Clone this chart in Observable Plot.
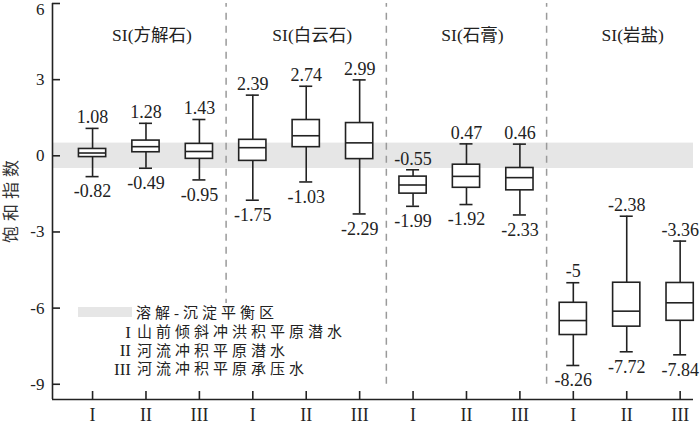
<!DOCTYPE html>
<html><head><meta charset="utf-8">
<script src="https://cdn.jsdelivr.net/npm/d3@7"></script>
<script src="https://cdn.jsdelivr.net/npm/@observablehq/plot@0.6"></script>
<style>
body{margin:0;background:#fff;}
#chart{width:700px;height:425px;}
</style></head><body><div id="chart"></div>
<script>
// ---- data ----
const minerals = ["SI(方解石)", "SI(白云石)", "SI(石膏)", "SI(岩盐)"];
const aquifers = ["I", "II", "III"];
const maxVals = [1.08, 1.28, 1.43, 2.39, 2.74, 2.99, -0.55, 0.47, 0.46, -5, -2.38, -3.36];
const q3Vals  = [0.27, 0.60, 0.47, 0.63, 1.41, 1.29, -0.82, -0.35, -0.48, -5.79, -5.00, -5.01];
const medVals = [0.11, 0.36, 0.17, 0.32, 0.79, 0.51, -1.15, -0.81, -0.86, -6.49, -6.12, -5.79];
const q1Vals  = [-0.05, 0.14, -0.12, -0.20, 0.34, -0.13, -1.49, -1.26, -1.36, -7.06, -6.73, -6.50];
const minVals = [-0.82, -0.49, -0.95, -1.75, -1.03, -2.29, -1.99, -1.92, -2.33, -8.26, -7.72, -7.84];
const yTicks = [-9, -6, -3, 0, 3, 6];
const equilibriumBand = [-0.5, 0.5];
const legendBandLabel = "溶解-沉淀平衡区";
const legendAquiferLabels = ["山前倾斜冲洪积平原潜水", "河流冲积平原潜水", "河流冲积平原承压水"];
const yTitle = "饱和指数";

// ---- derived table ----
const boxes = maxVals.map((mx, i) => ({
  pos: i + 1,
  group: minerals[Math.floor(i / 3)],
  aq: aquifers[i % 3],
  max: mx, q3: q3Vals[i], med: medVals[i], q1: q1Vals[i], min: minVals[i]
}));
const positions = boxes.map(d => d.pos);
const separators = minerals.slice(1).map((_, i) => (i + 1) * aquifers.length + 0.5);
const groupCenters = minerals.map((m, i) => ({m, c: i * aquifers.length + 2}));
const topTick = yTicks[yTicks.length - 1];

const xDomain = [0.25, 12.25];
const yDomain = [-9.6, 6];
const boxHalf = 0.255, capHalf = 0.122;
const ink = "#222";
const serif = "'Liberation Serif', 'Noto Sans CJK SC', serif";

const chart = Plot.plot({
  width: 700, height: 425,
  marginLeft: 52, marginRight: 7, marginTop: 3, marginBottom: 26,
  x: {type: "linear", domain: xDomain},
  y: {domain: yDomain},
  style: {fontFamily: serif, fontSize: "17px", color: ink, background: "white"},
  marks: [
    Plot.rect([equilibriumBand], {x1: () => xDomain[0], x2: () => xDomain[1], y1: d => d[0], y2: d => d[1], fill: "#e6e6e6"}),
    Plot.ruleX(separators, {y1: () => yTicks[0], y2: () => topTick, stroke: "#9a9a9a", strokeWidth: 1.5, strokeDasharray: "7,6"}),
    Plot.ruleX(boxes, {x: "pos", y1: "min", y2: "max", stroke: ink, strokeWidth: 1.6}),
    Plot.ruleY(boxes, {y: "max", x1: d => d.pos - capHalf, x2: d => d.pos + capHalf, stroke: ink, strokeWidth: 1.6}),
    Plot.ruleY(boxes, {y: "min", x1: d => d.pos - capHalf, x2: d => d.pos + capHalf, stroke: ink, strokeWidth: 1.6}),
    Plot.rect(boxes, {x1: d => d.pos - boxHalf, x2: d => d.pos + boxHalf, y1: "q1", y2: "q3", fill: "white", stroke: ink, strokeWidth: 1.6}),
    Plot.ruleY(boxes, {y: "med", x1: d => d.pos - boxHalf, x2: d => d.pos + boxHalf, stroke: ink, strokeWidth: 1.6}),
    Plot.text(boxes, {x: "pos", y: "max", text: d => String(d.max), dy: -11, fontSize: 18, fontFamily: serif, fill: ink}),
    Plot.text(boxes, {x: "pos", y: "min", text: d => String(d.min), dy: 15, fontSize: 18, fontFamily: serif, fill: ink}),
    Plot.text(groupCenters, {x: "c", text: "m", frameAnchor: "top", dy: 25, dx: 6, fontSize: 17.5, fontFamily: serif, fill: ink}),
    Plot.ruleX([xDomain[0]], {stroke: ink, strokeWidth: 1.6}),
    Plot.ruleY([yDomain[0]], {stroke: ink, strokeWidth: 1.6}),
    Plot.axisY({ticks: yTicks, tickSize: -8, tickPadding: 16, tickFormat: d => d === topTick ? "" : String(d), fontSize: 17, fontFamily: serif, label: null, strokeWidth: 1.6}),
    Plot.axisY({ticks: [topTick], tickSize: 0, tickPadding: 8, dy: 6, tickFormat: d => String(d), fontSize: 17, fontFamily: serif, label: null}),
    Plot.axisX({ticks: positions, tickSize: -8, tickPadding: 17, tickFormat: d => aquifers[(d - 1) % 3], fontSize: 18, fontFamily: serif, label: null, strokeWidth: 1.6})
  ]
});
document.getElementById("chart").appendChild(chart);

// ---- legend and y title ----
const svg = d3.select(chart);
const lg = svg.append("g").attr("font-family", serif).attr("fill", ink).attr("text-anchor", "start");
lg.append("rect").attr("x", 70).attr("y", 303).attr("width", 295).attr("height", 82).attr("fill", "white");
lg.append("rect").attr("x", 78).attr("y", 307).attr("width", 54).attr("height", 10).attr("fill", "#e6e6e6");
lg.append("text").attr("x", 136).attr("y", 313).attr("dominant-baseline", "central").attr("text-anchor", "start")
  .attr("font-size", 15).style("letter-spacing", "4px").text(legendBandLabel);
legendAquiferLabels.forEach((t, i) => {
  const y = 332 + i * 18.7;
  lg.append("text").attr("x", 131).attr("y", y).attr("dominant-baseline", "central")
    .attr("text-anchor", "end").attr("font-size", 17).text(aquifers[i]);
  lg.append("text").attr("x", 137).attr("y", y).attr("dominant-baseline", "central").attr("text-anchor", "start")
    .attr("font-size", 15).style("letter-spacing", "4px").text(t);
});
svg.append("text").attr("transform", "translate(11,243) rotate(-90)")
  .attr("text-anchor", "start").attr("dominant-baseline", "central")
  .attr("font-family", serif).attr("font-size", 17).attr("fill", "#333")
  .style("letter-spacing", "5px").text(yTitle);
</script></body></html>
